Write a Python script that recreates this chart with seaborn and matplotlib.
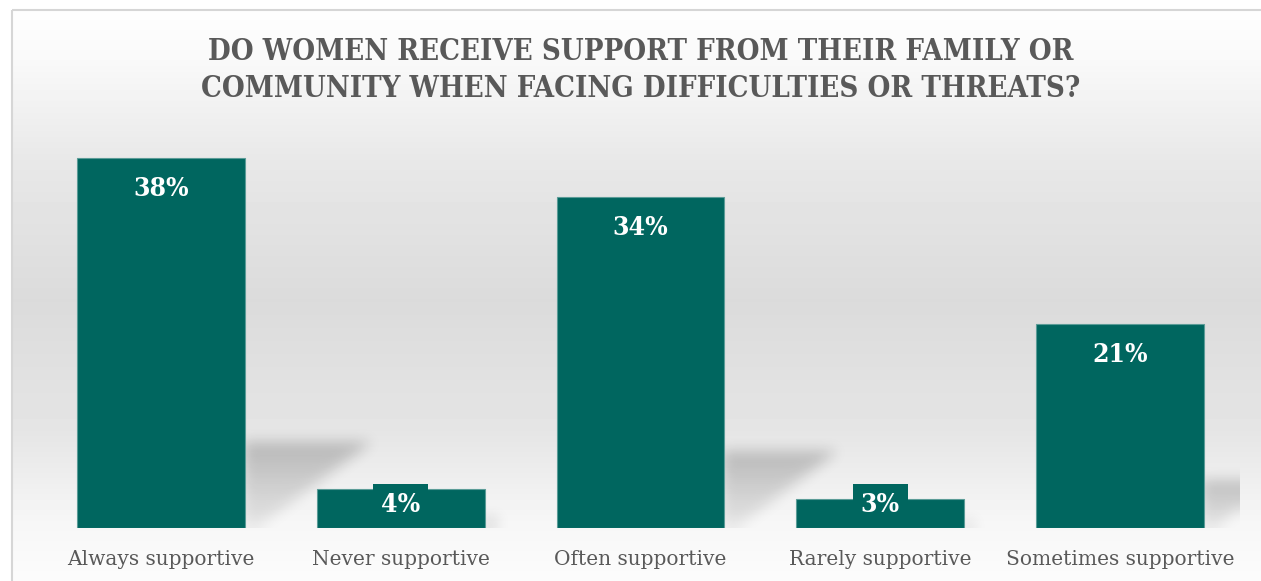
import numpy as np
import pandas as pd
import matplotlib
matplotlib.use("Agg")
import matplotlib.pyplot as plt
from matplotlib.patches import Rectangle
from matplotlib.path import Path
import seaborn as sns

categories = ["Always supportive", "Never supportive", "Often supportive",
              "Rarely supportive", "Sometimes supportive"]
shares = [38, 4, 34, 3, 21]
value_labels = ["38%", "4%", "34%", "3%", "21%"]
title = "DO WOMEN RECEIVE SUPPORT FROM THEIR FAMILY OR\nCOMMUNITY WHEN FACING DIFFICULTIES OR THREATS?"

df = pd.DataFrame({"category": categories, "share": shares})

W, H = 1261, 581
DPI = 100
BAR = "#00665F"
TEXT = "#595959"
SERIF = "DejaVu Serif"

sns.set_theme(style="white")
plt.rcParams["font.family"] = [SERIF]

fig = plt.figure(figsize=(W / DPI, H / DPI), dpi=DPI)
fig.patch.set_facecolor("white")

# vertical grey gradient behind the chart
bg = fig.add_axes([0, 0, 1, 1], zorder=-10)
ys = np.arange(H)
stops_y = [0, 10, 60, 160, 300, 430, 520, 581]
stops_v = [255, 254, 249, 232, 219, 229, 246, 252]
col = np.interp(ys, stops_y, stops_v) / 255.0
img = np.repeat(col[:, None], W, axis=1)
img[:10, :] = 1.0
img[:, :12] = 1.0
bg.imshow(img, cmap="gray", vmin=0, vmax=1, aspect="auto",
          extent=[0, W, H, 0], interpolation="bilinear")
bg.set_xlim(0, W)
bg.set_ylim(H, 0)
bg.axis("off")
bg.add_patch(Rectangle((12, 10), W + 20, H + 20, fill=False,
                       edgecolor="#d6d6d6", linewidth=1.5))

# plot area
left_px, right_px, base_px = 41, 1240, 528
ymax = 40
top_px = base_px - 370 / 38 * ymax
ax = fig.add_axes([left_px / W, (H - base_px) / H,
                   (right_px - left_px) / W, (base_px - top_px) / H])
ax.patch.set_alpha(0)

sns.barplot(data=df, x="category", y="share", color=BAR, width=0.70,
            saturation=1, edgecolor="#5b9c97", linewidth=0.8, ax=ax, zorder=3)
ax.set_xlim(-0.5, len(categories) - 0.5)
ax.set_ylim(0, ymax)

# soft cast shadows to the right of each bar
nx, ny = int(right_px - left_px), int(base_px - top_px)
gx = np.linspace(-0.5, len(categories) - 0.5, nx)
gy = np.linspace(ymax, 0, ny)
XX, YY = np.meshgrid(gx, gy)
pts = np.column_stack([XX.ravel(), YY.ravel()])
alpha = np.zeros(XX.shape)
data_per_px_x = len(categories) / nx
for i, v in enumerate(shares):
    h_px = v * 370 / 38
    xr = i + 0.35
    up = 0.232 * v
    dx = 0.343 * h_px * data_per_px_x
    poly = Path([(xr - 0.01, 0), (xr - 0.01, up), (xr + dx, up),
                 (xr + 0.05, 0), (xr - 0.01, 0)])
    inside = poly.contains_points(pts).reshape(XX.shape)
    shade = np.clip(0.07 + 0.14 * (YY / max(up, 1e-6)), 0, 0.21)
    alpha = np.maximum(alpha, inside * shade)


def box_blur(a, r, axis):
    k = np.ones(2 * r + 1) / (2 * r + 1)
    pad = [(0, 0), (0, 0)]
    pad[axis] = (r, r)
    a2 = np.pad(a, pad, mode="edge")
    return np.apply_along_axis(lambda m: np.convolve(m, k, mode="valid"), axis, a2)


for _ in range(3):
    alpha = box_blur(alpha, 6, 0)
    alpha = box_blur(alpha, 6, 1)
rgba = np.zeros(XX.shape + (4,))
rgba[..., 3] = alpha
ax.imshow(rgba, extent=[-0.5, len(categories) - 0.5, 0, ymax],
          aspect="auto", zorder=1, interpolation="bilinear")
ax.set_xlim(-0.5, len(categories) - 0.5)
ax.set_ylim(0, ymax)

# value labels
lab_kw = dict(ha="center", va="center", color="white", fontsize=19,
              fontweight="bold", fontstretch="condensed", zorder=5)
for i, (v, lab) in enumerate(zip(shares, value_labels)):
    if v >= 8:
        ax.annotate(lab, (i, v), xytext=(0, -31), textcoords="offset pixels",
                    **lab_kw)
    else:
        ax.annotate(lab, (i, 0), xytext=(0, 24), textcoords="offset pixels",
                    bbox=dict(boxstyle="square,pad=0.3", facecolor=BAR,
                              edgecolor="none"), **lab_kw)

ax.set_xlabel("")
ax.set_ylabel("")
ax.set_yticks([])
ax.tick_params(axis="x", length=0, pad=16, labelsize=14.5, labelcolor=TEXT)
for s in ax.spines.values():
    s.set_visible(False)

fig.text(641 / W, 1 - 70 / H, title, ha="center", va="center",
         fontsize=21, fontweight="bold", fontstretch="condensed",
         color=TEXT, linespacing=1.33)

fig.savefig("out.png", dpi=DPI)
